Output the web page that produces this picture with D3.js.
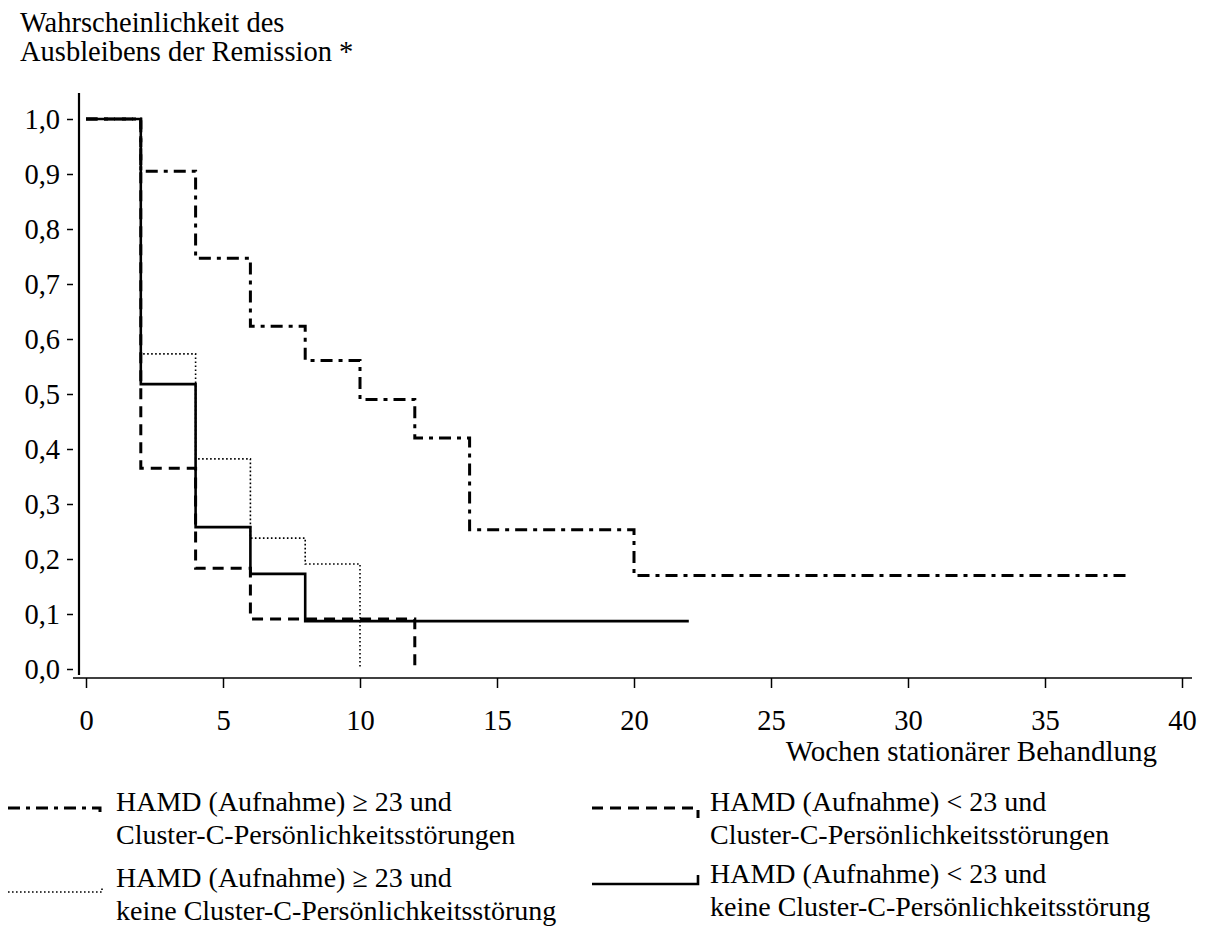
<!DOCTYPE html>
<html>
<head>
<meta charset="utf-8">
<script src="https://cdn.jsdelivr.net/npm/d3@7"></script>
<style>
  html, body { margin: 0; padding: 0; background: #fff; }
  svg { display: block; }
  text { font-family: "Liberation Serif", "DejaVu Serif", serif; fill: #000; }
</style>
</head>
<body>
<svg id="chart" width="1212" height="928"></svg>
<script>
// ---- data ----
const yTickValues = [0, 0.1, 0.2, 0.3, 0.4, 0.5, 0.6, 0.7, 0.8, 0.9, 1.0];
const yTickLabels = ["0,0","0,1","0,2","0,3","0,4","0,5","0,6","0,7","0,8","0,9","1,0"];
const xTickValues = [0, 5, 10, 15, 20, 25, 30, 35, 40];

// HAMD >= 23 und Cluster-C-Persönlichkeitsstörungen (dash-dot)
const weeksHighC  = [0, 2, 4, 6, 8, 10, 12, 14, 20, 38];
const probHighC   = [1.0, 0.905, 0.747, 0.623, 0.561, 0.49, 0.42, 0.253, 0.17, 0.17];
// HAMD < 23 und Cluster-C-Persönlichkeitsstörungen (dashed)
const weeksLowC   = [0, 2, 4, 6, 12];
const probLowC    = [1.0, 0.365, 0.183, 0.091, 0.0];
// HAMD >= 23 und keine Cluster-C (dotted)
const weeksHighN  = [0, 2, 4, 6, 8, 10];
const probHighN   = [1.0, 0.573, 0.382, 0.238, 0.191, 0.0];
// HAMD < 23 und keine Cluster-C (solid)
const weeksLowN   = [0, 2, 4, 6, 8, 22];
const probLowN    = [1.0, 0.518, 0.258, 0.173, 0.087, 0.087];

const seriesNames = [
  ["HAMD (Aufnahme) \u2265 23 und", "Cluster-C-Persönlichkeitsstörungen"],
  ["HAMD (Aufnahme) < 23 und", "Cluster-C-Persönlichkeitsstörungen"],
  ["HAMD (Aufnahme) \u2265 23 und", "keine Cluster-C-Persönlichkeitsstörung"],
  ["HAMD (Aufnahme) < 23 und", "keine Cluster-C-Persönlichkeitsstörung"]
];
const titleLines = ["Wahrscheinlichkeit des", "Ausbleibens der Remission *"];
const xTitle = "Wochen stationärer Behandlung";

// ---- chart ----
const svg = d3.select("#chart");
const x = d3.scaleLinear().domain([0, 40]).range([86, 1182]);
const y = d3.scaleLinear().domain([0, 1]).range([669, 119]);

const styles = [
  { width: 3,   dash: "12,6,4,6" },
  { width: 3,   dash: "11,7" },
  { width: 1.6, dash: "1.6,2.4" },
  { width: 2.6, dash: null }
];

// title
svg.append("g").selectAll("text").data(titleLines).join("text")
  .attr("x", 20).attr("y", (d, i) => 32 + i * 29)
  .attr("font-size", 28.5).text(d => d);

// y axis
const yAxis = d3.axisLeft(y).tickValues(yTickValues)
  .tickFormat((d, i) => yTickLabels[i]).tickSize(6).tickPadding(7);
const gy = svg.append("g").attr("transform", "translate(73,0)").call(yAxis);
gy.select(".domain").remove();
gy.selectAll(".tick line").attr("stroke", "#000").attr("stroke-width", 1.5);
gy.selectAll(".tick text").attr("font-size", 28.5)
  .attr("font-family", "Liberation Serif, serif").attr("dy", "0.32em");
svg.append("line").attr("x1", 79).attr("x2", 79)
  .attr("y1", y(1.0) - 26).attr("y2", y(0) + 6)
  .attr("stroke", "#000").attr("stroke-width", 2.2);

// x axis
const xAxis = d3.axisBottom(x).tickValues(xTickValues).tickSize(10).tickPadding(22);
const gx = svg.append("g").attr("transform", "translate(0,678)").call(xAxis);
gx.select(".domain").remove();
gx.selectAll(".tick line").attr("stroke", "#000").attr("stroke-width", 1.5);
gx.selectAll(".tick text").attr("font-size", 28.5)
  .attr("font-family", "Liberation Serif, serif");
svg.append("line").attr("x1", 73).attr("x2", 1192).attr("y1", 678).attr("y2", 678)
  .attr("stroke", "#000").attr("stroke-width", 1.6);

svg.append("text").attr("x", 1157).attr("y", 761).attr("text-anchor", "end")
  .attr("font-size", 29).text(xTitle);

// curves
const series = [
  weeksHighC.map((w, i) => [w, probHighC[i]]),
  weeksLowC.map((w, i) => [w, probLowC[i]]),
  weeksHighN.map((w, i) => [w, probHighN[i]]),
  weeksLowN.map((w, i) => [w, probLowN[i]])
];
const line = d3.line().x(d => x(d[0])).y(d => y(d[1])).curve(d3.curveStepAfter);
svg.append("g").selectAll("path").data(series).join("path")
  .attr("d", line).attr("fill", "none").attr("stroke", "#000")
  .attr("stroke-width", (d, i) => styles[i].width)
  .attr("stroke-dasharray", (d, i) => styles[i].dash);

// legend
const legendPos = [
  { mx1: 8,   mx2: 100, my: 808, hook: 5,  tx: 116, ty: 811 },
  { mx1: 592, mx2: 698, my: 808, hook: 10, tx: 710, ty: 811 },
  { mx1: 8,   mx2: 102, my: 892, hook: -6, tx: 116, ty: 887 },
  { mx1: 592, mx2: 698, my: 884, hook: -9, tx: 710, ty: 883 }
];
const lg = svg.append("g").selectAll("g").data(seriesNames).join("g");
lg.append("path")
  .attr("d", (d, i) => {
    const p = legendPos[i];
    return `M${p.mx1},${p.my}H${p.mx2}V${p.my + p.hook}`;
  })
  .attr("fill", "none").attr("stroke", "#000")
  .attr("stroke-width", (d, i) => styles[i].width)
  .attr("stroke-dasharray", (d, i) => styles[i].dash);
lg.each(function(d, i) {
  const p = legendPos[i];
  d3.select(this).selectAll("text").data(d).join("text")
    .attr("x", p.tx).attr("y", (t, j) => p.ty + j * 33)
    .attr("font-size", 28).text(t => t);
});
</script>
</body>
</html>
